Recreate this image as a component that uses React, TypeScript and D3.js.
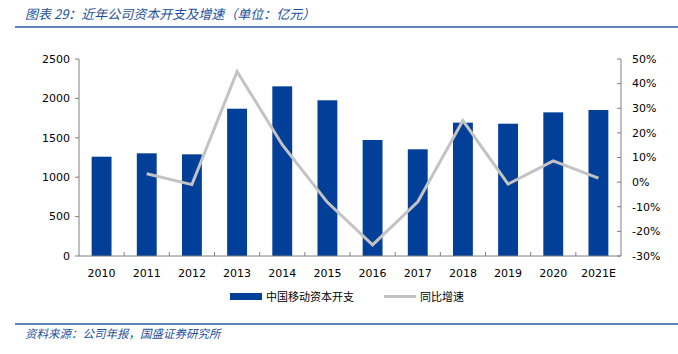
import * as d3 from "d3";

const years = ["2010", "2011", "2012", "2013", "2014", "2015", "2016", "2017", "2018", "2019", "2020", "2021E"];
const capex = [1260, 1303, 1290, 1869, 2153, 1976, 1472, 1354, 1692, 1679, 1823, 1853];
const growth = [null, 3.4, -1.0, 44.9, 15.2, -8.2, -25.5, -8.0, 25.0, -0.8, 8.6, 1.6];
const leftTicks = [0, 500, 1000, 1500, 2000, 2500];
const rightTicks = [-30, -20, -10, 0, 10, 20, 30, 40, 50];

const W = 678;
const H = 354;
const M = { left: 79, right: 621, top: 59, bottom: 256 };
const BLUE = "#023f98";
const GRAY = "#c3c3c3";
const TEXT_BLUE = "#1d4f9c";
const NUM_FONT = "'DejaVu Sans', Verdana, sans-serif";
const CJK_FONT = "'Noto Sans CJK SC', sans-serif";

export default function App() {
  const x = d3.scaleBand<string>().domain(years).range([M.left, M.right]).paddingInner(0.56).paddingOuter(0.28);
  const step = (M.right - M.left) / years.length;
  const yL = d3.scaleLinear().domain([0, 2500]).range([M.bottom, M.top]);
  const yR = d3.scaleLinear().domain([-30, 50]).range([M.bottom, M.top]);

  const pts = years.map((yr, i) => ({ yr, v: growth[i] }));
  const line = d3
    .line<{ yr: string; v: number | null }>()
    .defined((d) => d.v !== null)
    .x((d) => (x(d.yr) ?? 0) + x.bandwidth() / 2)
    .y((d) => yR(d.v as number));

  return (
    <svg width={W} height={H} style={{ position: "absolute", left: 0, top: 0, background: "#fff" }}>
      {/* title */}
      <text x={25} y={19} fill={TEXT_BLUE} fontFamily={CJK_FONT} fontSize={13} fontStyle="italic">
        图表 29：近年公司资本开支及增速（单位：亿元）
      </text>
      <line x1={15} x2={W} y1={27} y2={27} stroke="#2a5ca8" strokeWidth={1.5} />

      {/* bars */}
      {years.map((yr, i) => (
        <rect key={yr} x={x(yr)} y={yL(capex[i])} width={x.bandwidth()} height={M.bottom - yL(capex[i])} fill={BLUE} />
      ))}

      {/* growth line */}
      <path d={line(pts) ?? ""} fill="none" stroke={GRAY} strokeWidth={3} strokeLinejoin="miter" />

      {/* left axis */}
      <line x1={M.left} x2={M.left} y1={M.top} y2={M.bottom} stroke="#808080" />
      {leftTicks.map((t) => (
        <g key={t}>
          <line x1={M.left - 4} x2={M.left} y1={yL(t)} y2={yL(t)} stroke="#808080" />
          <text x={70} y={yL(t)} dy="0.35em" textAnchor="end" fontFamily={NUM_FONT} fontSize={11} fill="#000">
            {t}
          </text>
        </g>
      ))}

      {/* right axis */}
      <line x1={M.right} x2={M.right} y1={M.top} y2={M.bottom} stroke="#808080" />
      {rightTicks.map((t) => (
        <g key={t}>
          <line x1={M.right - 4} x2={M.right} y1={yR(t)} y2={yR(t)} stroke="#808080" />
          <text x={632} y={yR(t)} dy="0.35em" textAnchor="start" fontFamily={NUM_FONT} fontSize={11} fill="#000">
            {t}%
          </text>
        </g>
      ))}

      {/* x axis */}
      <line x1={M.left} x2={M.right} y1={M.bottom} y2={M.bottom} stroke="#808080" />
      {years.map((yr, i) => (
        <g key={yr}>
          {i > 0 && <line x1={M.left + step * i} x2={M.left + step * i} y1={M.bottom - 4} y2={M.bottom} stroke="#808080" />}
          <text x={(x(yr) ?? 0) + x.bandwidth() / 2} y={277} textAnchor="middle" fontFamily={NUM_FONT} fontSize={11} fill="#000">
            {yr}
          </text>
        </g>
      ))}

      {/* legend */}
      <rect x={230} y={293} width={32} height={7} fill={BLUE} />
      <text x={266} y={301} fontFamily={CJK_FONT} fontSize={11} fill="#000">
        中国移动资本开支
      </text>
      <line x1={384} x2={416} y1={296.5} y2={296.5} stroke={GRAY} strokeWidth={3} />
      <text x={420} y={301} fontFamily={CJK_FONT} fontSize={11} fill="#000">
        同比增速
      </text>

      {/* source */}
      <line x1={15} x2={W} y1={324} y2={324} stroke="#2a5ca8" strokeWidth={1.5} />
      <text x={25} y={338} fill={TEXT_BLUE} fontFamily={CJK_FONT} fontSize={11.5} fontStyle="italic">
        资料来源：公司年报，国盛证券研究所
      </text>
    </svg>
  );
}
